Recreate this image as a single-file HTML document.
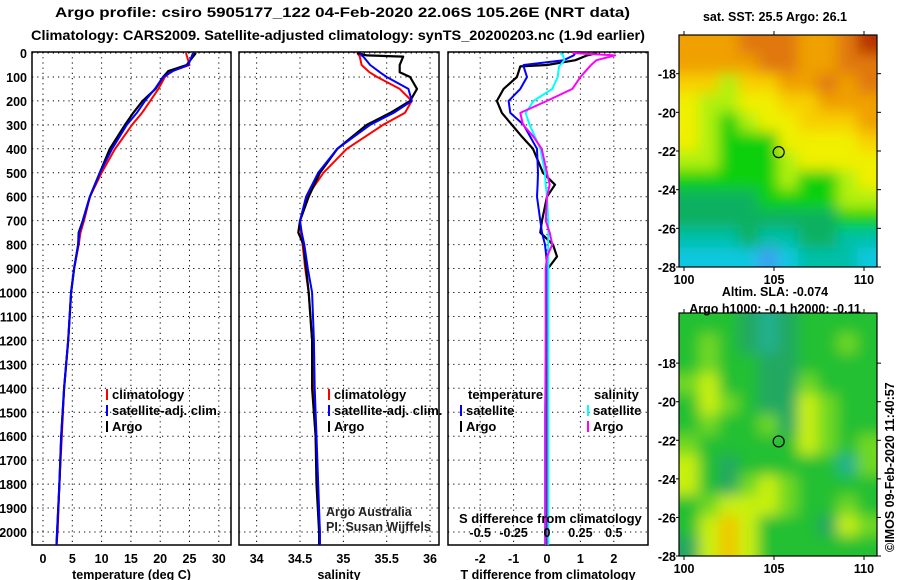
<!DOCTYPE html>
<html><head><meta charset="utf-8"><style>
html,body{margin:0;padding:0;background:#fff;}
svg{display:block;font-family:"Liberation Sans",sans-serif;}
.b{font-weight:bold;font-size:13px;}
.t{font-weight:bold;font-size:12.5px;}
.h{font-weight:bold;font-size:14px;}
</style></head><body>
<svg id="c" width="900" height="580" viewBox="0 0 900 580">
<defs>
<filter id="bl" x="-0.1" y="-0.1" width="1.2" height="1.2"><feGaussianBlur stdDeviation="7"/></filter>
<clipPath id="cm1"><rect x="679" y="35" width="198" height="232"/></clipPath>
<clipPath id="cm2"><rect x="679" y="313" width="198" height="243"/></clipPath>
</defs>
<text class="h" x="55" y="17" textLength="575" lengthAdjust="spacingAndGlyphs">Argo profile: csiro 5905177_122 04-Feb-2020 22.06S 105.26E (NRT data)</text>
<text class="h" x="31" y="40" textLength="614" lengthAdjust="spacingAndGlyphs">Climatology: CARS2009. Satellite-adjusted climatology: synTS_20200203.nc (1.9d earlier)</text>
</svg>
<script>
// ---- data ----
const depthT = [0,50,75,100,150,200,250,300,400,500,600,700,750,800,900,1000,1200,1400,1600,1800,2000,2054];
const argoT  = [26.1,24.5,21.4,20.5,19.2,17.0,15.4,14.0,11.4,9.7,8.0,6.8,6.1,6.0,5.3,4.8,4.3,3.6,3.1,2.8,2.4,2.3];
const climT  = [24.4,25.0,22.0,20.8,19.7,18.3,16.9,15.2,12.3,10.0,8.0,7.0,6.4,6.1,5.3,4.8,4.3,3.6,3.2,2.8,2.5,2.3];
const satT   = [25.6,24.8,22.2,20.5,19.1,17.4,16.0,14.3,11.8,9.7,8.0,6.8,6.2,6.0,5.3,4.8,4.3,3.6,3.1,2.8,2.4,2.3];
const depthS = [0,10,15,50,80,100,150,200,250,300,400,500,600,700,750,800,900,1000,1200,1400,1600,1800,2000,2054];
const argoS  = [35.16,35.27,35.69,35.65,35.65,35.77,35.85,35.77,35.54,35.27,34.93,34.73,34.60,34.50,34.48,34.54,34.57,34.60,34.64,34.64,34.68,34.69,34.72,34.72];
const climS  = [35.16,35.18,35.19,35.21,35.30,35.39,35.65,35.79,35.71,35.46,35.04,34.77,34.58,34.50,34.51,34.53,34.56,34.60,34.64,34.66,34.68,34.70,34.73,34.73];
const satS   = [35.19,35.21,35.23,35.31,35.42,35.50,35.75,35.79,35.58,35.31,34.93,34.71,34.57,34.50,34.52,34.55,34.59,34.64,34.66,34.67,34.69,34.71,34.73,34.73];
const depthD = [0,10,30,50,56,100,150,200,250,300,350,400,500,550,600,700,750,800,850,900,1000,1500,2000,2054];
const argoDT = [1.5,1.2,0.85,0.0,-0.8,-0.9,-1.3,-1.5,-1.35,-1.05,-0.75,-0.42,-0.12,0.24,0.0,-0.15,-0.2,0.18,0.3,0.03,0.0,0.0,0.0,0.0];
const satDT  = [0.85,0.8,0.5,-0.7,-0.7,-0.6,-0.8,-1.15,-1.1,-0.7,-0.5,-0.3,-0.27,-0.28,-0.3,-0.2,-0.15,-0.06,-0.02,0.0,-0.02,-0.05,-0.05,-0.05];
const satDS  = [0.10,0.12,0.13,0.10,0.09,0.08,0.04,-0.10,-0.16,-0.13,-0.09,-0.05,-0.015,-0.01,0.0,0.01,0.01,0.01,0.01,0.01,0.01,0.01,0.01,0.01];
const argoDS = [0.19,0.51,0.37,0.33,0.32,0.25,0.19,0.0,-0.2,-0.18,-0.1,-0.04,0.0,0.02,0.0,-0.01,0.02,0.04,0.0,-0.01,-0.01,-0.01,-0.01,-0.01];
const depthTicks = [0,100,200,300,400,500,600,700,800,900,1000,1100,1200,1300,1400,1500,1600,1700,1800,1900,2000];
const tTicks = [0,5,10,15,20,25,30];
const sTicks = [34,34.5,35,35.5,36];
const dTTicks = [-2,-1,0,1,2];
const dSTicks = [-0.5,-0.25,0,0.25,0.5];
const lonTicks = [100,105,110];
const latTicks = [-18,-20,-22,-24,-26,-28];
const sstGrid = [
[8,8,8,9,9,9,8,8,9,10],[8,8,8,8,9,9,8,8,9,9],[7,7,5,7,7,8,8,9,8,9],[6,5,5,6,6,7,7,8,8,8],
[6,5,4,5,6,6,7,7,7,8],[6,5,4,4,4,6,6,6,6,7],[5,5,4,4,4,5,6,6,6,6],[4,4,4,4,4,5,4,4,5,6],
[3,3,3,3,4,4,4,4,5,5],[3,3,3,3,3,3,3,3,4,4],[2,2,2,3,2,2,3,3,2,2],[1,1,1,1,0,1,2,2,2,1]];
const slaGrid = [
[2,2,2,1,0,1,2,2,2,2],[2,3,2,1,0,1,2,2,3,2],[2,3,2,2,1,1,2,2,2,2],[3,4,2,2,1,1,3,2,2,2],
[2,4,3,2,1,1,4,3,2,2],[2,3,2,2,3,1,4,3,2,2],[3,2,2,2,2,2,4,3,2,3],[4,2,1,2,2,2,2,2,0,3],
[4,2,1,3,4,3,2,2,2,2],[2,3,4,4,4,3,2,2,3,2],[2,4,5,4,2,2,2,1,4,3],[1,4,5,4,2,2,2,2,2,2]];
const floatLon = 105.26, floatLat = -22.06;

const NS='http://www.w3.org/2000/svg';
const svg=document.getElementById('c');
function mk(tag,attrs,parent){const e=document.createElementNS(NS,tag);for(const k in attrs)e.setAttribute(k,attrs[k]);(parent||svg).appendChild(e);return e;}
function txt(s,x,y,anchor,cls,parent){const e=mk('text',{x:x,y:y,'text-anchor':anchor||'start',class:cls||'t'},parent);e.textContent=s;return e;}

const Y=d=>53+0.2395*d;
const XT=t=>43+5.86*t;
const XS=s=>300+86.7*(s-34.5);
const XD=v=>547+33.4*v;
const XDS=v=>547+133.6*v;
const PT=52, PB=545;

function panel(name,x0,x1,xticks,xf,labelFmt,xtitle){
  const g=mk('g',{});
  
  
  xticks.forEach(v=>{mk('line',{x1:xf(v),x2:xf(v),y1:PT,y2:PB,stroke:'#000','stroke-dasharray':'1.2,4','stroke-width':1},g);});
  depthTicks.forEach(d=>{mk('line',{x1:x0,x2:x1,y1:Y(d),y2:Y(d),stroke:'#000','stroke-dasharray':'1.2,4','stroke-width':1},g);});
  mk('rect',{x:x0,y:PT,width:x1-x0,height:PB-PT,fill:'none',stroke:'#000','stroke-width':1.5},g);
  xticks.forEach(v=>{txt(labelFmt(v),xf(v),563,'middle','t',g);});
  const tt=txt(xtitle,(x0+x1)/2,579,'middle','t',g);
  
  
  return g;
}
function line(g,xs,ds,xf,col,w,name){
  const pts=xs.map((v,i)=>xf(v).toFixed(1)+','+Y(ds[i]).toFixed(1)).join(' ');
  const p=mk('polyline',{points:pts,fill:'none',stroke:col,'stroke-width':w,'stroke-linejoin':'round'},g);
  
  
}
function legend(g,items,x,y0){
  items.forEach((it,i)=>{
    const y=y0+i*16;
    mk('rect',{x:x,y:y-10,width:2,height:11,fill:it[1]},g);
    const t=txt(it[0],x+6,y,'start','b',g);
    
    
  });
}
const dl=mk('g',{});


depthTicks.forEach(d=>txt(String(d),27,Y(d)+5,'end','t',dl));

const g1=panel('temperature-panel',32,231,tTicks,XT,v=>String(v),'temperature (deg C)');
line(g1,climT,depthT,XT,'#f00',2,'temperature-climatology-line');
line(g1,argoT,depthT,XT,'#000',2.2,'temperature-argo-line');
line(g1,satT,depthT,XT,'#00f',2,'temperature-satellite-line');
legend(g1,[['climatology','#f00'],['satellite-adj. clim.','#00f'],['Argo','#000']],106,399);

const g2=panel('salinity-panel',239,439,sTicks,XS,v=>String(v),'salinity');
line(g2,climS,depthS,XS,'#f00',2,'salinity-climatology-line');
line(g2,argoS,depthS,XS,'#000',2.2,'salinity-argo-line');
line(g2,satS,depthS,XS,'#00f',2,'salinity-satellite-line');
legend(g2,[['climatology','#f00'],['satellite-adj. clim.','#00f'],['Argo','#000']],328,399);
const a1=txt('Argo Australia',326,516,'start','',g2);a1.setAttribute('font-size','12');a1.setAttribute('fill','#222');


const a2=txt('PI: Susan Wijffels',326,531,'start','',g2);a2.setAttribute('font-size','12');a2.setAttribute('fill','#222');



const g3=panel('difference-panel',448,648,dTTicks,XD,v=>String(v),'T difference from climatology');
line(g3,argoDT,depthD,XD,'#000',2.2,'temperature-diff-argo-line');
line(g3,satDT,depthD,XD,'#00f',2,'temperature-diff-satellite-line');
line(g3,satDS,depthD,XDS,'#0ff',2,'salinity-diff-satellite-line');
line(g3,argoDS,depthD,XDS,'#f0f',2,'salinity-diff-argo-line');
const tl=txt('temperature',468,399,'start','b',g3);


legend(g3,[['satellite','#00f'],['Argo','#000']],460,415);
const sl=txt('salinity',594,399,'start','b',g3);


legend(g3,[['satellite','#0ff'],['Argo','#f0f']],587,415);
const st=txt('S difference from climatology',459,523,'start','b',g3);


dSTicks.forEach(v=>txt(String(v),XDS(v),537,'middle','t',g3));

const sstPal=['#3aa0f0','#10c8e0','#00c0a8','#10b060','#10d010','#b0f010','#f0f000','#f8d000','#f0a000','#e07810','#b83000'];
const slaPal=['#20b090','#20a860','#20c030','#70d820','#c8f010','#f0c800'];
function map(name,grid,pal,x0,y0,w,h,latTop,latBot,clip){
  const g=mk('g',{});
  
  
  const inner=mk('g',{'clip-path':'url(#'+clip+')'},g);
  const f=mk('g',{filter:'url(#bl)'},inner);
  const rows=grid.length,cols=grid[0].length,cw=w/cols,ch=h/rows;
  grid.forEach((r,i)=>r.forEach((v,j)=>{
    const ex=(j==0?-20:0),ey=(i==0?-20:0);
    mk('rect',{x:x0+j*cw+ex,y:y0+i*ch+ey,width:cw+1-ex+(j==cols-1?20:0),height:ch+1-ey+(i==rows-1?20:0),fill:pal[v]},f);
  }));
  const lx=l=>684+(l-100)*18;
  const LY=l=>y0+h+(l-latBot)*(-h/(latTop-latBot));
  mk('rect',{x:x0,y:y0,width:w,height:h,fill:'none',stroke:'#000','stroke-width':1.2},g);
  lonTicks.forEach(l=>{mk('line',{x1:lx(l),x2:lx(l),y1:y0+h,y2:y0+h+4,stroke:'#000'},g);mk('line',{x1:lx(l),x2:lx(l),y1:y0,y2:y0-4,stroke:'#000'},g);txt(String(l),lx(l),y0+h+17,'middle','t',g);});
  latTicks.forEach(l=>{const yy=LY(l);mk('line',{x1:x0+w,x2:x0+w+4,y1:yy,y2:yy,stroke:'#000'},g);mk('line',{x1:x0-3,x2:x0,y1:yy,y2:yy,stroke:'#000'},g);txt(String(l),x0-3,yy+5,'end','t',g);});
  const c=mk('circle',{cx:lx(floatLon),cy:LY(floatLat),r:5.5,fill:'none',stroke:'#000','stroke-width':1.2},g);
  
  
}
map('sst-map',sstGrid,sstPal,679,35,198,232,-16.0,-28,'cm1');
map('sla-map',slaGrid,slaPal,679,313,198,243,-15.4,-28,'cm2');
const m1=txt('sat. SST: 25.5 Argo: 26.1',775,21,'middle','t');


const m2=txt('Altim. SLA: -0.074',775,296,'middle','t');


const m3=txt('Argo h1000: -0.1 h2000: -0.11',775,313,'middle','t');


const cr=txt('©IMOS 09-Feb-2020 11:40:57',0,0,'start','');
cr.setAttribute('font-size','12.5');
cr.setAttribute('transform','translate(894,552) rotate(-90)');


</script>
</body></html>
